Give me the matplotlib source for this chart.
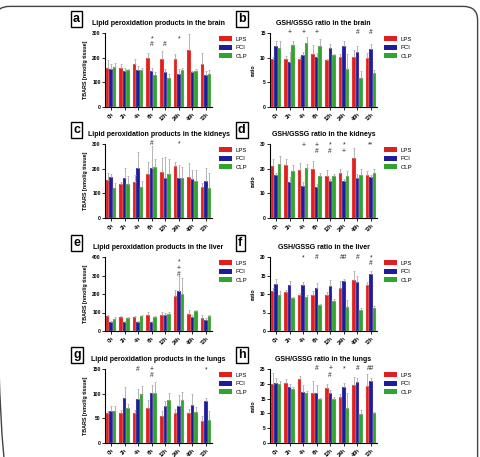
import matplotlib
matplotlib.use("Agg")
import matplotlib.pyplot as plt
import numpy as np
from matplotlib.patches import Patch, FancyBboxPatch

plt.rcParams['font.family'] = ['Liberation Sans', 'DejaVu Sans']

groups = ["0h", "2h", "4h", "6h", "12h", "24h", "48h", "72h"]
series = ["LPS", "PCI", "CLP"]
colors = ["#e0201e", "#1c1c9c", "#2fa52f"]

# brain
brain_tbars = [[157, 157, 175, 200, 196, 196, 231, 173],
               [156, 147, 151, 147, 140, 135, 140, 129],
               [161, 151, 148, 129, 116, 149, 147, 133]]
brain_tbars_err = [[33, 19, 18, 17, 31, 17, 65, 44],
                   [17, 13, 16, 13, 16, 18, 7, 18],
                   [19, 2, 12, 14, 16, 11, 6, 18]]
brain_ratio = [[9.7, 9.75, 9.8, 10.8, 9.5, 10.1, 10.2, 10.0],
               [12.3, 9.1, 10.6, 10.2, 11.9, 12.3, 11.1, 11.8],
               [11.9, 12.5, 13.0, 12.3, 10.6, 7.8, 5.8, 6.8]]
brain_ratio_err = [[0.5, 0.65, 0.4, 1.8, 0.2, 0.6, 1.4, 0.9],
                   [1.1, 2.0, 0.5, 0.7, 0.8, 1.1, 1.2, 0.9],
                   [1.5, 0.8, 1.1, 1.5, 0.1, 2.9, 1.4, 0.7]]

# kidneys
kidney_tbars = [[153, 137, 144, 177, 188, 212, 168, 127],
                [167, 164, 201, 201, 164, 163, 158, 151],
                [123, 137, 127, 205, 177, 163, 151, 122]]
kidney_tbars_err = [[28, 10, 30, 49, 54, 17, 54, 13],
                    [10, 37, 66, 89, 83, 52, 37, 53],
                    [17, 34, 22, 35, 63, 45, 44, 59]]
kidney_ratio = [[21.0, 21.6, 19.6, 20.0, 17.0, 18.4, 24.3, 17.4],
                [17.4, 14.4, 13.1, 12.6, 14.9, 14.9, 16.2, 16.6],
                [21.7, 19.2, 20.3, 17.0, 17.2, 16.9, 17.4, 18.4]]
kidney_ratio_err = [[3.1, 2.3, 2.8, 3.0, 2.4, 1.6, 3.9, 1.8],
                    [0.9, 2.2, 1.3, 1.2, 0.9, 0.9, 1.8, 0.7],
                    [3.6, 2.2, 1.7, 1.3, 0.8, 2.0, 2.6, 1.4]]

# liver
liver_tbars = [[79, 75, 75, 88, 88, 187, 92, 72],
               [46, 46, 46, 46, 86, 218, 77, 61],
               [66, 72, 83, 77, 90, 200, 108, 79]]
liver_tbars_err = [[9, 8, 8, 15, 15, 33, 24, 14],
                   [9, 9, 9, 9, 11, 79, 7, 9],
                   [11, 5, 5, 6, 15, 84, 8, 9]]
liver_ratio = [[10.9, 10.5, 9.7, 9.6, 9.7, 11.6, 13.9, 12.5],
               [12.7, 12.5, 12.3, 11.6, 12.1, 13.5, 13.2, 15.3],
               [9.8, 8.8, 9.1, 6.9, 8.0, 6.5, 5.6, 6.1]]
liver_ratio_err = [[0.7, 0.6, 0.5, 1.1, 0.8, 2.0, 2.3, 0.7],
                   [1.4, 1.0, 0.9, 1.3, 1.7, 0.6, 1.8, 0.9],
                   [1.1, 0.5, 0.6, 0.4, 0.6, 1.9, 0.6, 0.7]]

# lungs
lung_tbars = [[61, 61, 61, 70, 54, 60, 60, 45],
              [65, 91, 90, 102, 74, 75, 78, 85],
              [64, 70, 99, 102, 87, 88, 62, 47]]
lung_tbars_err = [[4, 5, 5, 17, 10, 9, 9, 9],
                  [10, 23, 20, 16, 11, 22, 21, 7],
                  [12, 9, 17, 21, 15, 16, 11, 18]]
lung_ratio = [[20.0, 20.2, 21.5, 17.0, 18.5, 15.7, 19.6, 19.1],
              [20.2, 18.8, 17.3, 17.0, 17.0, 19.0, 20.5, 21.1],
              [20.0, 18.2, 17.0, 15.0, 15.0, 11.7, 9.7, 10.2]]
lung_ratio_err = [[3.8, 1.3, 1.2, 3.9, 1.4, 1.0, 2.7, 4.3],
                  [1.7, 1.2, 2.4, 2.6, 0.8, 1.3, 1.4, 0.8],
                  [1.1, 0.8, 0.6, 0.3, 0.6, 5.1, 1.4, 0.4]]

# significance marks per time point
marks_a = ["", "", "", "*\n#", "\n#", "*", "", ""]
marks_b = ["", "+", "+", "+", "", "", "#", "#"]
marks_c = ["", "", "", "#", "", "*", "", ""]
marks_d = ["", "", "+", "+\n#", "*\n#", "*\n+", "", "**"]
marks_e = ["", "", "", "", "", "*\n+\n#", "", ""]
marks_f = ["", "", "*", "#", "", "##", "#", "*\n#"]
marks_g = ["", "", "#", "+\n#", "", "", "", "*"]
marks_h = ["", "", "", "#", "+\n#", "*", "#", "##"]

panels = [
    ("a", "Lipid peroxidation products in the brain", brain_tbars, brain_tbars_err, 300, 100, "TBARS [nmol/g tissue]", marks_a, 0.97),
    ("b", "GSH/GSSG ratio in the brain", brain_ratio, brain_ratio_err, 15, 5, "ratio", marks_b, 1.05),
    ("c", "Lipid peroxidation products in the kidneys", kidney_tbars, kidney_tbars_err, 300, 100, "TBARS [nmol/g tissue]", marks_c, 1.05),
    ("d", "GSH/GSSG ratio in the kidneys", kidney_ratio, kidney_ratio_err, 30, 10, "ratio", marks_d, 1.03),
    ("e", "Lipid peroxidation products in the liver", liver_tbars, liver_tbars_err, 400, 100, "TBARS [nmol/g tissue]", marks_e, 0.98),
    ("f", "GSH/GSSG ratio in the liver", liver_ratio, liver_ratio_err, 20, 5, "ratio", marks_f, 1.04),
    ("g", "Lipid peroxidation products in the lungs", lung_tbars, lung_tbars_err, 150, 50, "TBARS [nmol/g tissue]", marks_g, 1.04),
    ("h", "GSH/GSSG ratio in the lungs", lung_ratio, lung_ratio_err, 25, 5, "ratio", marks_h, 1.05),
]

W, H = 480, 457
fig = plt.figure(figsize=(W / 100, H / 100), dpi=100)

# outer rounded frame
frame = FancyBboxPatch((-0.01, -0.05), 1.005, 1.036, transform=fig.transFigure,
                       boxstyle="round,pad=0,rounding_size=0.03",
                       facecolor="none", edgecolor="#444444", linewidth=1.0)
fig.patches.append(frame)

col_left = [105, 270]
row_top = [33, 144, 257, 369]
ax_w, ax_h = 107, 74

x = np.arange(len(groups))
bw = 0.26

for i, (lab, title, vals, errs, ymax, ystep, ylab, marks, mark_y) in enumerate(panels):
    r, c = divmod(i, 2)
    left = col_left[c] / W
    bottom = 1 - (row_top[r] + ax_h) / H
    ax = fig.add_axes([left, bottom, ax_w / W, ax_h / H])
    for k in range(3):
        pos = x + (k - 1) * bw
        ax.bar(pos, vals[k], bw, color=colors[k], edgecolor="#f3c8c8", linewidth=0.2,
               label=series[k], zorder=2)
        ax.errorbar(pos, vals[k], yerr=[np.zeros(len(groups)), errs[k]], fmt="none",
                    ecolor="#a8a8a8", elinewidth=0.6, capsize=0.8, capthick=0.5, zorder=3)
    ax.set_xlim(-0.45, len(groups) - 0.55)
    ax.set_ylim(0, ymax)
    ax.set_yticks(np.arange(0, ymax + ystep / 2, ystep))
    ax.set_xticks(x)
    ax.set_xticklabels(groups, rotation=45, ha="right", rotation_mode="anchor",
                       fontsize=3.8, fontweight="bold")
    ax.tick_params(axis="y", labelsize=3.6, length=2, width=0.6, pad=1)
    ax.tick_params(axis="x", length=2, width=0.6, pad=1.5)
    for lbl in ax.get_yticklabels():
        lbl.set_fontweight("bold")
    for s in ["top", "right"]:
        ax.spines[s].set_visible(False)
    for s in ["left", "bottom"]:
        ax.spines[s].set_linewidth(0.8)
    ax.set_ylabel(ylab, fontsize=3.9, fontweight="bold", labelpad=3)
    ax.set_title(title, fontsize=5.0, fontweight="bold", pad=5.5)
    for g, m in enumerate(marks):
        if m:
            ax.text(g, ymax * mark_y, m, ha="center", va="top", fontsize=4.8,
                    linespacing=0.85, color="#222222", clip_on=False)
    handles = [Patch(facecolor=colors[k], edgecolor="none") for k in range(3)]
    ax.legend(handles, series, loc="upper left", bbox_to_anchor=(1.04, 0.99), frameon=False,
              fontsize=4.3, handlelength=2.2, handleheight=1.0, labelspacing=0.45,
              handletextpad=0.7, borderaxespad=0)
    # panel letter
    fig.text((col_left[c] - 32) / W, 1 - (row_top[r] - 14) / H, lab, fontsize=9,
             fontweight="bold", ha="left", va="center",
             bbox=dict(boxstyle="square,pad=0.18", facecolor="white", edgecolor="black",
                       linewidth=1.0))

fig.savefig("out.png", dpi=100)
